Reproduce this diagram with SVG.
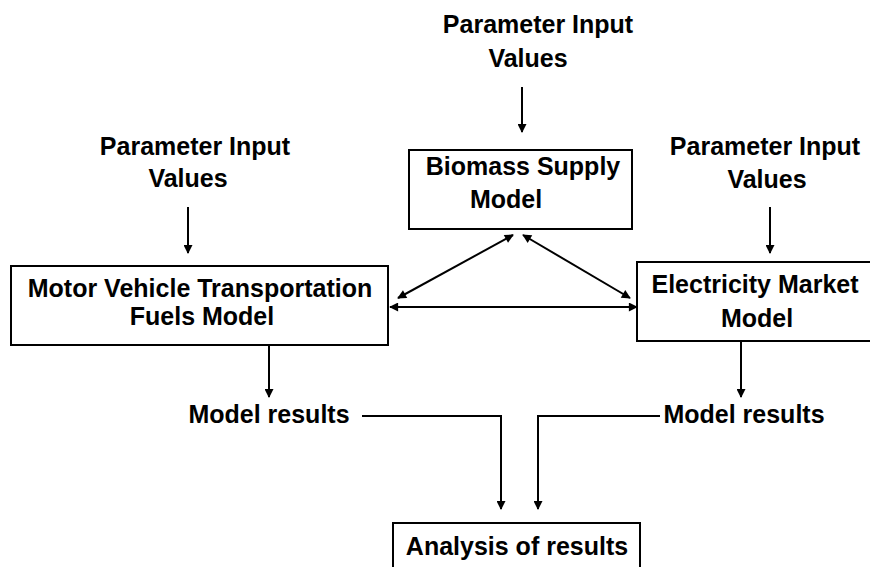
<svg xmlns="http://www.w3.org/2000/svg" width="870" height="567" viewBox="0 0 870 567">
<style>
  .box { fill: #ffffff; stroke: #000000; stroke-width: 2; }
  .t { font-family: "Liberation Sans", Arial, sans-serif; font-weight: bold; font-size: 25px; fill: #000000; text-anchor: middle; }
  .c { fill: none; stroke: #000000; stroke-width: 2; }
</style>
<defs>
  <marker id="ah" viewBox="0 0 10 10" refX="9" refY="5" markerWidth="10" markerHeight="9" markerUnits="userSpaceOnUse" orient="auto-start-reverse">
    <path d="M0,0 L10,5 L0,10 z" fill="#000000"/>
  </marker>
</defs>
<rect width="870" height="567" fill="#ffffff"/>

<g id="param-left">
  <text class="t" x="195" y="155">Parameter Input</text>
  <text class="t" x="188" y="187">Values</text>
</g>
<g id="param-top">
  <text class="t" x="538" y="33">Parameter Input</text>
  <text class="t" x="528" y="67">Values</text>
</g>
<g id="param-right">
  <text class="t" x="765" y="155">Parameter Input</text>
  <text class="t" x="767" y="188">Values</text>
</g>

<g id="biomass">
  <rect class="box" x="409" y="150" width="223" height="79"/>
  <text class="t" x="523" y="175">Biomass Supply</text>
  <text class="t" x="506" y="208">Model</text>
</g>

<g id="motor">
  <rect class="box" x="11" y="266" width="377" height="79"/>
  <text class="t" x="200" y="297">Motor Vehicle Transportation</text>
  <text class="t" x="202" y="325">Fuels Model</text>
</g>

<g id="electricity">
  <rect class="box" x="637" y="262" width="245" height="79"/>
  <text class="t" x="755" y="293">Electricity Market</text>
  <text class="t" x="757" y="327">Model</text>
</g>

<g id="results-left">
  <text class="t" x="269" y="423">Model results</text>
</g>
<g id="results-right">
  <text class="t" x="744" y="423">Model results</text>
</g>

<g id="analysis">
  <rect class="box" x="393" y="523" width="247" height="60"/>
  <text class="t" x="517" y="555">Analysis of results</text>
</g>

<g id="connectors">
  <line class="c" x1="188" y1="207" x2="188" y2="253" marker-end="url(#ah)"/>
  <line class="c" x1="522" y1="87" x2="522" y2="132" marker-end="url(#ah)"/>
  <line class="c" x1="770" y1="207" x2="770" y2="253" marker-end="url(#ah)"/>
  <line class="c" x1="269" y1="346" x2="269" y2="397" marker-end="url(#ah)"/>
  <line class="c" x1="741" y1="342" x2="741" y2="397" marker-end="url(#ah)"/>
  <polyline class="c" points="362,416 501,416 501,509" marker-end="url(#ah)"/>
  <polyline class="c" points="660,416 538,416 538,509" marker-end="url(#ah)"/>
  <line class="c" x1="513" y1="235" x2="398" y2="298" marker-start="url(#ah)" marker-end="url(#ah)"/>
  <line class="c" x1="523" y1="235" x2="630" y2="298" marker-start="url(#ah)" marker-end="url(#ah)"/>
  <line class="c" x1="390" y1="307" x2="637" y2="307" marker-start="url(#ah)" marker-end="url(#ah)"/>
</g>
</svg>
